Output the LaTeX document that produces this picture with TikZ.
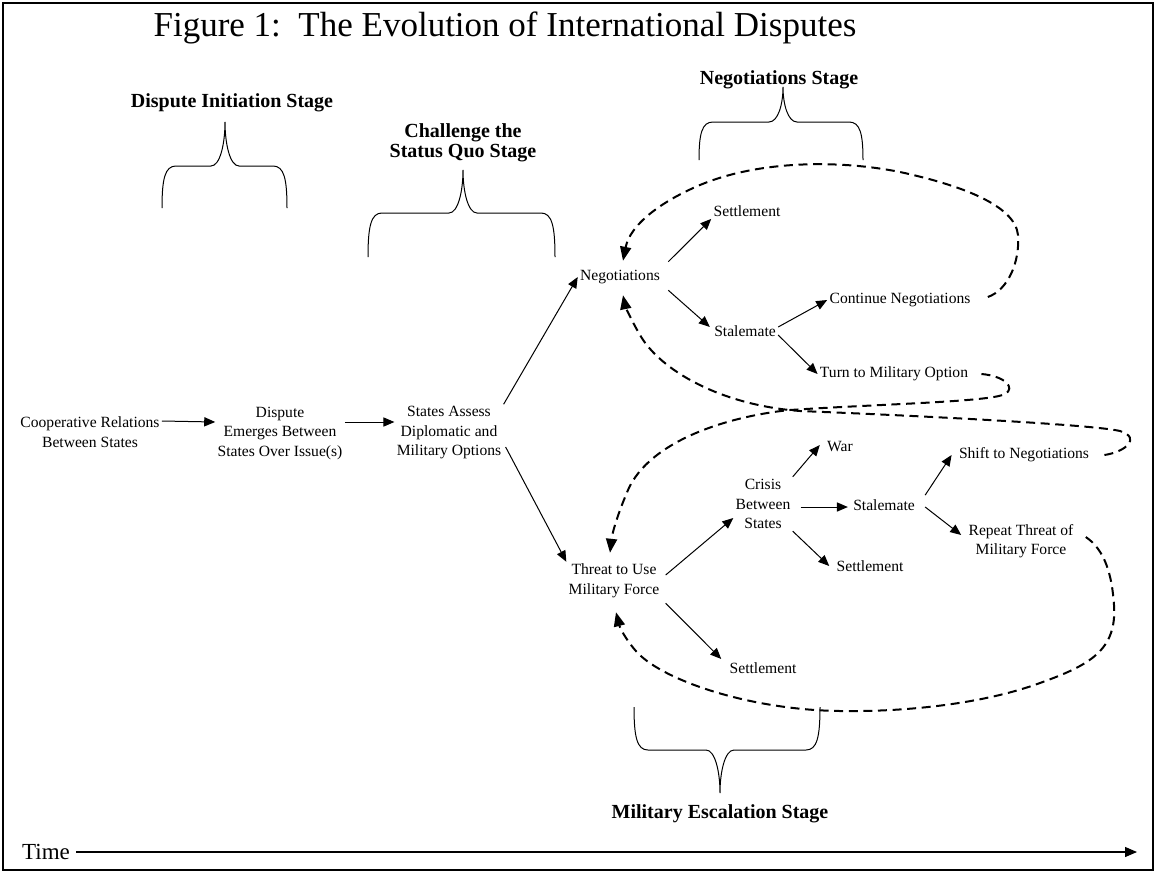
\documentclass[tikz,border=0pt]{standalone}
\usepackage{fontspec}
\setmainfont{Liberation Serif}
\usetikzlibrary{arrows.meta}
% L R C yb yh yt
\newcommand\stagebrace[6]{%
 \draw[bracestyle] (#1,#4) .. controls (#1,{#5+0.3*(#4-#5)}) and ({#1+3},#5) .. ({#1+14},#5)
   -- ({#3-14},#5) .. controls ({#3-5},#5) and (#3,{#5+0.5*(#6-#5)}) .. (#3,#6)
   .. controls (#3,{#5+0.5*(#6-#5)}) and ({#3+5},#5) .. ({#3+14},#5)
   -- ({#2-14},#5) .. controls ({#2-3},#5) and (#2,{#5+0.3*(#4-#5)}) .. (#2,#4);}
\begin{document}
\begin{tikzpicture}[x=0.5pt,y=-0.5pt,
  lbl/.style={font=\fontsize{7.8}{9.75}\selectfont, align=center, inner sep=1pt},
  stage/.style={font=\bfseries\fontsize{10}{10}\selectfont, align=center, inner sep=1pt},
  arr/.style={line width=0.5pt, -{Triangle[length=5.5pt,width=4.6pt]}},
  dloop/.style={line width=1pt, dash pattern=on 4.5pt off 2.8pt, -{Triangle[length=7pt,width=5.5pt]}},
  bracestyle/.style={line width=0.5pt}]
\useasboundingbox (0,0) rectangle (1156,873);
\draw[line width=1pt] (3,3) rectangle (1153,870);

\node[font=\fontsize{17.5}{20}\selectfont, inner sep=1pt] (title) at (505,28) {Figure 1:\ \ The Evolution of International Disputes};

% stage labels and braces
\node[stage] (s1) at (232,103) {Dispute Initiation Stage};
\node[stage] (s2) at (463,143) {Challenge the\\Status Quo Stage};
\node[stage] (s3) at (779,80) {Negotiations Stage};
\node[stage] (s4) at (720,814) {Military Escalation Stage};
\stagebrace{162}{287}{225}{208}{166}{122}
\stagebrace{368}{555}{463}{257}{213}{170}
\stagebrace{699}{863}{783}{160}{122}{87}
\stagebrace{634}{820}{720}{707}{750}{793}

% nodes
\node[lbl] (coop) at (90,432) {Cooperative Relations\\Between States};
\node[lbl] (dispute) at (280,433) {Dispute\\Emerges Between\\States Over Issue(s)};
\node[lbl] (assess) at (449,433) {States Assess\\Diplomatic and\\Military Options};
\node[lbl] (neg) at (620,277) {Negotiations};
\node[lbl] (settop) at (747,211) {Settlement};
\node[lbl] (staltop) at (745,331) {Stalemate};
\node[lbl] (cont) at (900,300) {Continue Negotiations};
\node[lbl] (turn) at (894,374) {Turn to Military Option};
\node[lbl] (threat) at (614,581) {Threat to Use\\Military Force};
\node[lbl] (crisis) at (763,504) {Crisis\\Between\\States};
\node[lbl] (war) at (840,447) {War};
\node[lbl] (stalbot) at (884,505) {Stalemate};
\node[lbl] (setmid) at (870,566) {Settlement};
\node[lbl] (shiftneg) at (1024,455) {Shift to Negotiations};
\node[lbl] (repeat) at (1021,541) {Repeat Threat of\\Military Force};
\node[lbl] (setbot) at (763,668) {Settlement};

% solid connectors
\draw[arr] ([yshift=5.5pt]coop.east) -- ([yshift=5.5pt]dispute.west);
\draw[arr] ([yshift=5.5pt]dispute.east) -- ([yshift=5.5pt]assess.west);
\draw[arr] (assess.north east) -- (neg.west);
\draw[arr] ([shift={(2,14)}]assess.east) -- (threat.north west);
\draw[arr] ([shift={(6,-6)}]neg.north east) -- (settop.south west);
\draw[arr] ([shift={(6,4)}]neg.south east) -- ([shift={(-2,-4)}]staltop.west);
\draw[arr] ([yshift=2pt]staltop.east) -- (cont.west);
\draw[arr] ([yshift=-2pt]staltop.east) -- (turn.west);
\draw[arr] ([shift={(4,-6)}]threat.east) -- ([yshift=-7pt]crisis.west);
\draw[arr] (crisis.north east) -- ([shift={(-5,-2)}]war.west);
\draw[arr] ([shift={(8,3)}]crisis.east) -- ([shift={(-3,2)}]stalbot.west);
\draw[arr] (crisis.south east) -- ([shift={(-5,0)}]setmid.west);
\draw[arr] ([shift={(8,-2)}]stalbot.north east) -- ([shift={(-5,0)}]shiftneg.west);
\draw[arr] ([shift={(8,2)}]stalbot.east) -- ([shift={(-5,-6)}]repeat.west);
\draw[arr] ([shift={(4,3)}]threat.south east) -- ([shift={(-6,-9)}]setbot.west);

% dashed loops
\draw[dloop] ([shift={(15,-3)}]cont.east) .. controls (1008,290) and (1020,262) .. (1018,235)
  .. controls (1015,205) and (960,185) .. (900,172)
  .. controls (840,160) and (760,160) .. (700,185)
  .. controls (660,202) and (630,225) .. ([shift={(3,-7)}]neg.north);
\draw[dloop] ([shift={(11,0)}]turn.east) .. controls (1005,376) and (1016,388) .. (1005,394)
  .. controls (990,402) and (880,404) .. (790,410)
  .. controls (730,416) and (650,440) .. (628,490)
  .. controls (616,518) and (612,535) .. ([shift={(-4,-9)}]threat.north);
\draw[dloop] ([shift={(13,0)}]shiftneg.east) .. controls (1125,452) and (1142,438) .. (1120,431)
  .. controls (1090,424) and (900,415) .. (800,411)
  .. controls (720,405) and (660,370) .. (640,335)
  .. controls (630,318) and (625,305) .. ([shift={(3,9)}]neg.south);
\draw[dloop] ([shift={(10,-4)}]repeat.east) .. controls (1105,550) and (1112,575) .. (1114,605)
  .. controls (1117,650) and (1090,665) .. (1040,683)
  .. controls (980,705) and (900,712) .. (840,711)
  .. controls (750,710) and (660,680) .. (635,650)
  .. controls (625,638) and (620,628) .. ([shift={(2,12)}]threat.south);

% time axis
\node[font=\fontsize{11.5}{12}\selectfont, inner sep=1pt] (time) at (46,852) {Time};
\coordinate (timeend) at (1137,852);
\draw[line width=0.6pt, -{Triangle[length=6pt,width=5pt]}] ([xshift=2pt]time.east) -- (timeend);
\end{tikzpicture}
\end{document}
